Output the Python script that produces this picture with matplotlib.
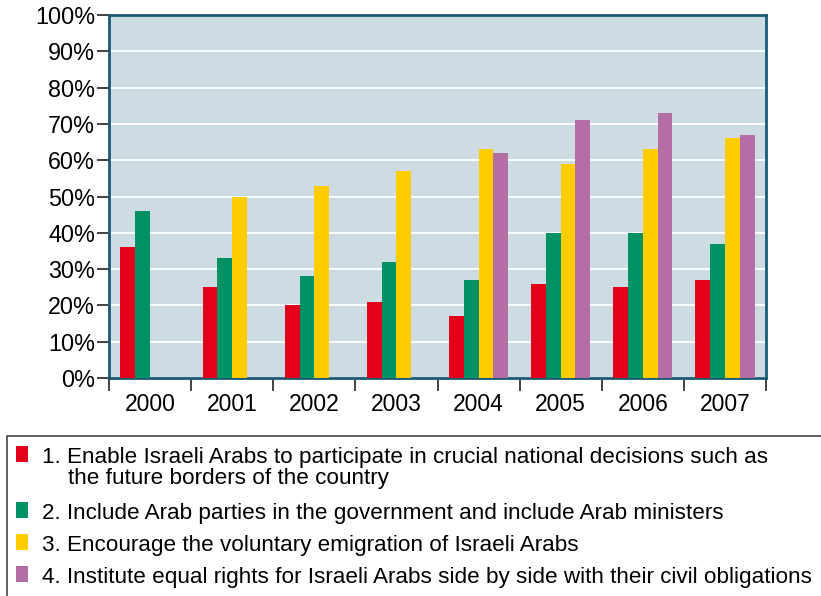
import numpy as np
import matplotlib
matplotlib.use('Agg')
import matplotlib.pyplot as plt
from matplotlib.ticker import FuncFormatter
from matplotlib.patches import Rectangle

# data
years = ['2000', '2001', '2002', '2003', '2004', '2005', '2006', '2007']
enable_decisions = [36, 25, 20, 21, 17, 26, 25, 27]
arab_parties = [46, 33, 28, 32, 27, 40, 40, 37]
emigration = [np.nan, 50, 53, 57, 63, 59, 63, 66]
equal_rights = [np.nan, np.nan, np.nan, np.nan, 62, 71, 73, 67]
labels = ['1. Enable Israeli Arabs to participate in crucial national decisions such as\nthe future borders of the country',
          '2. Include Arab parties in the government and include Arab ministers',
          '3. Encourage the voluntary emigration of Israeli Arabs',
          '4. Institute equal rights for Israeli Arabs side by side with their civil obligations']
colors = ['#e2001a', '#009265', '#ffcc00', '#b36fa5']

plt.rcParams['font.family'] = ['Liberation Sans', 'DejaVu Sans']

W, H = 821, 596
fig = plt.figure(figsize=(W / 100, H / 100), dpi=100)
ax = fig.add_axes([109 / W, 1 - 378 / H, 657 / W, 363 / H])

series = [enable_decisions, arab_parties, emigration, equal_rights]
x = np.arange(len(years))
w = 0.18
for k, (vals, c) in enumerate(zip(series, colors)):
    ax.bar(x + (k - 1.5) * w, vals, w, color=c, zorder=3)

ax.set_facecolor('#cddbe3')
ax.set_xlim(-0.5, len(years) - 0.5)
ax.set_ylim(0, 100)
ax.set_yticks(np.arange(0, 101, 10))
ax.yaxis.set_major_formatter(FuncFormatter(lambda v, p: '%d%%' % v))
ax.yaxis.grid(True, color='white', linewidth=1.3, zorder=1)
ax.set_axisbelow(True)

# ticks on group boundaries, labels in the middle
ax.set_xticks(np.arange(len(years) + 1) - 0.5)
ax.set_xticklabels([])
ax.set_xticks(x, minor=True)
ax.set_xticklabels(years, minor=True)
ax.tick_params(axis='x', which='major', length=9, width=1.2, color='#222222')
ax.tick_params(axis='x', which='minor', length=0, pad=11, labelsize=16.5)
ax.tick_params(axis='y', length=9, width=1.2, color='#222222', labelsize=16.8, pad=1)

for s in ax.spines.values():
    s.set_color('#1b5a73')
    s.set_linewidth(2)

# legend box drawn by hand so the marker sits on the first line
fig.add_artist(Rectangle((7 / W, -0.1), 830 / W, 1.1 - 436 / H, transform=fig.transFigure,
                         facecolor='white', edgecolor='#444444', linewidth=1.2))
baselines = [463, 519, 551, 583]
for lab, c, yb in zip(labels, colors, baselines):
    fig.add_artist(Rectangle((16 / W, 1 - (yb - 1) / H), 12 / W, 16 / H,
                             transform=fig.transFigure, facecolor=c, edgecolor='none'))
    lines = lab.split('\n')
    fig.text(42 / W, 1 - yb / H, lines[0], fontsize=16.2, va='baseline', ha='left')
    for j, extra in enumerate(lines[1:]):
        fig.text(68 / W, 1 - (yb + 21 * (j + 1)) / H, extra, fontsize=16.2, va='baseline', ha='left')

fig.savefig('out.png', dpi=100)
